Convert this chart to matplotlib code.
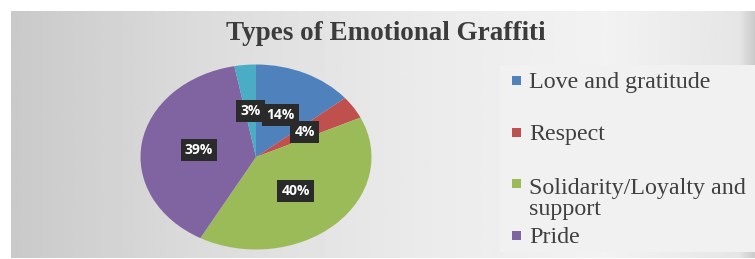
import numpy as np
import matplotlib.pyplot as plt
from matplotlib.patches import Rectangle

W, H = 755, 259

TITLE = "Types of Emotional Graffiti"
CATEGORIES = ["Love and gratitude", "Respect", "Solidarity/Loyalty and\nsupport", "Pride", ""]
SHARES = [14, 4, 40, 39, 3]
COLORS = ["#4f81bd", "#c0504d", "#9bbb59", "#8064a2", "#4bacc6"]
LEGEND_Y = [80, 132, 183, 235]  # pixel rows of legend entries (first line)


def px(x, y):
    """pixel (from top-left) -> figure fraction"""
    return x / W, 1 - y / H


fig = plt.figure(figsize=(W / 100, H / 100), dpi=100)
fig.patch.set_facecolor("white")

# grey gradient slide background
bg = fig.add_axes([11 / W, 1 / H, 744 / W, 247 / H])
xs = np.linspace(0, 1, 400)
grey = np.interp(xs, [0, 0.25, 0.55, 0.8, 0.98, 1.0], [0.79, 0.86, 0.92, 0.95, 0.9, 0.8])
bg.imshow(np.tile(grey, (10, 1)), cmap="gray", vmin=0, vmax=1, aspect="auto",
          extent=[0, 1, 0, 1])
bg.set_axis_off()

# lighter legend panel
fig.patches.append(Rectangle(px(500, 252), 255 / W, 187 / H, transform=fig.transFigure,
                             facecolor="#f1f1f1", edgecolor="none", zorder=1))

# pie (stretched into an ellipse)
cx, cy, rw, rh = 256, 157, 231, 185
ax = fig.add_axes([(cx - rw / 2) / W, (H - cy - rh / 2) / H, rw / W, rh / H])
wedges, texts, autotexts = ax.pie(
    SHARES, colors=COLORS, startangle=90, counterclock=False,
    autopct="%d%%", pctdistance=0.5,
    wedgeprops=dict(linewidth=0),
)
ax.set_aspect("auto")
ax.set_xlim(-1, 1)
ax.set_ylim(-1, 1)
for t in autotexts:
    t.set_color("white")
    t.set_fontsize(10)
    t.set_fontweight("bold")
    t.set_family("Open Sans")
    t.set_bbox(dict(boxstyle="square,pad=0.3", facecolor="#2a2a2a", edgecolor="none"))

fig.text(*px(386, 34), TITLE, ha="center", va="center", fontsize=19.5,
         fontweight="bold", family="Liberation Serif", color="#3c3c3c")

# legend (the small 3% slice has no entry)
line_h = 24
for y, label, color in zip(LEGEND_Y, CATEGORIES[:4], COLORS[:4]):
    fig.patches.append(Rectangle(px(512, y + 5), 9 / W, 9 / H, transform=fig.transFigure,
                                 facecolor=color, edgecolor="none", zorder=3))
    # baseline alignment uses the last line of a multi-line label
    last_base = y + 8 + label.count("\n") * line_h
    fig.text(*px(529, last_base), label, ha="left", va="baseline", fontsize=17.3,
             family="Liberation Serif", color="#404040", linespacing=1.0)

fig.savefig("out.png", dpi=100)
